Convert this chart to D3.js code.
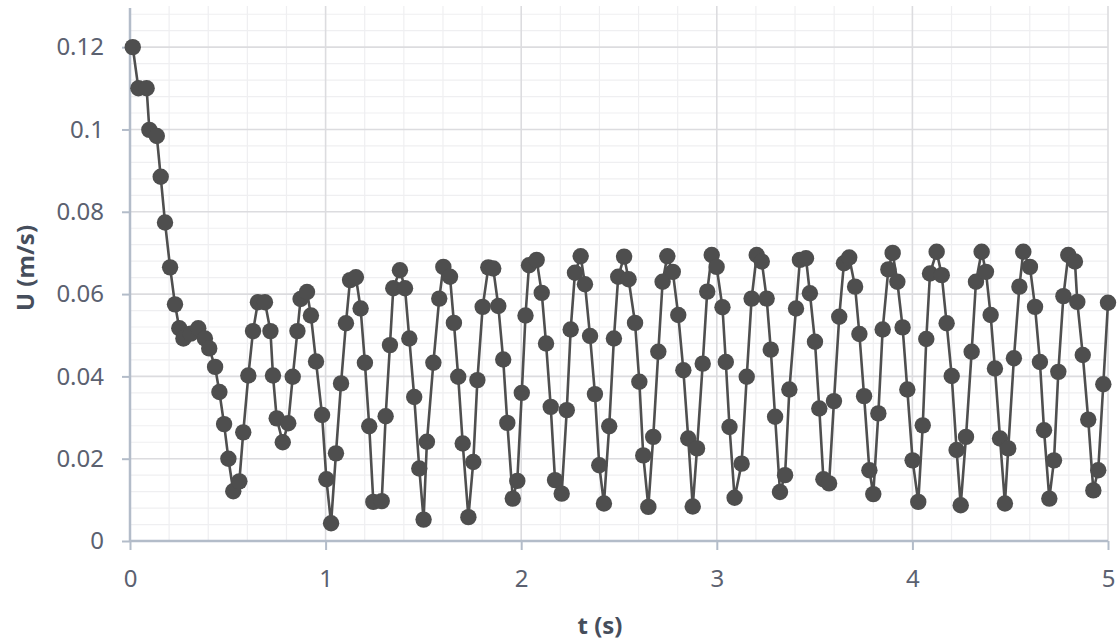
<!DOCTYPE html>
<html>
<head>
<meta charset="utf-8">
<script src="https://cdn.jsdelivr.net/npm/d3@7/dist/d3.min.js"></script>
<style>
  html, body { margin: 0; padding: 0; background: #ffffff; }
  svg { display: block; }
  .tick text { font-family: "Noto Sans", "Open Sans", sans-serif; }
</style>
</head>
<body>
<svg id="chart" width="1118" height="643"></svg>
<script>
// Velocity record U(t)
const timeS = [
  0.014, 0.043, 0.085, 0.099, 0.137, 0.157, 0.179, 0.205, 0.230, 0.252,
  0.273, 0.310, 0.349, 0.383, 0.405, 0.435, 0.457, 0.481, 0.503, 0.528,
  0.559, 0.579, 0.605, 0.629, 0.654, 0.690, 0.718, 0.731, 0.750, 0.781,
  0.809, 0.832, 0.856, 0.872, 0.905, 0.925, 0.951, 0.982, 1.004, 1.028,
  1.053, 1.079, 1.104, 1.125, 1.155, 1.179, 1.201, 1.223, 1.244, 1.287,
  1.307, 1.329, 1.346, 1.380, 1.406, 1.428, 1.453, 1.479, 1.501, 1.518,
  1.551, 1.581, 1.602, 1.636, 1.656, 1.678, 1.701, 1.730, 1.755, 1.776,
  1.803, 1.832, 1.857, 1.883, 1.908, 1.929, 1.957, 1.980, 2.003, 2.022,
  2.040, 2.079, 2.105, 2.127, 2.151, 2.173, 2.207, 2.233, 2.253, 2.275,
  2.304, 2.326, 2.352, 2.377, 2.399, 2.423, 2.450, 2.474, 2.496, 2.526,
  2.549, 2.582, 2.604, 2.624, 2.650, 2.675, 2.701, 2.723, 2.747, 2.775,
  2.803, 2.829, 2.854, 2.877, 2.899, 2.928, 2.951, 2.974, 2.999, 3.029,
  3.046, 3.065, 3.091, 3.127, 3.153, 3.178, 3.204, 3.230, 3.255, 3.276,
  3.298, 3.323, 3.349, 3.371, 3.405, 3.425, 3.456, 3.476, 3.502, 3.524,
  3.545, 3.574, 3.599, 3.626, 3.650, 3.677, 3.707, 3.729, 3.753, 3.780,
  3.800, 3.826, 3.848, 3.877, 3.899, 3.923, 3.950, 3.974, 4.001, 4.030,
  4.053, 4.071, 4.090, 4.124, 4.150, 4.175, 4.201, 4.226, 4.247, 4.274,
  4.303, 4.325, 4.354, 4.376, 4.400, 4.422, 4.448, 4.473, 4.490, 4.519,
  4.547, 4.567, 4.601, 4.627, 4.652, 4.673, 4.700, 4.724, 4.746, 4.772,
  4.797, 4.831, 4.843, 4.871, 4.899, 4.925, 4.950, 4.976, 5.000
];

const velocity = [
  0.1200, 0.1100, 0.1100, 0.0999, 0.0984, 0.0885, 0.0774, 0.0665, 0.0575, 0.0517,
  0.0492, 0.0504, 0.0517, 0.0492, 0.0468, 0.0423, 0.0362, 0.0284, 0.0200, 0.0121,
  0.0145, 0.0264, 0.0402, 0.0510, 0.0580, 0.0580, 0.0510, 0.0402, 0.0298, 0.0240,
  0.0286, 0.0399, 0.0510, 0.0588, 0.0605, 0.0548, 0.0436, 0.0306, 0.0150, 0.0043,
  0.0213, 0.0383, 0.0529, 0.0634, 0.0641, 0.0565, 0.0433, 0.0279, 0.0095, 0.0097,
  0.0303, 0.0476, 0.0614, 0.0658, 0.0614, 0.0492, 0.0350, 0.0176, 0.0052, 0.0241,
  0.0433, 0.0589, 0.0666, 0.0642, 0.0530, 0.0399, 0.0237, 0.0058, 0.0192, 0.0391,
  0.0569, 0.0665, 0.0662, 0.0571, 0.0441, 0.0287, 0.0103, 0.0146, 0.0360, 0.0548,
  0.0670, 0.0683, 0.0603, 0.0480, 0.0326, 0.0148, 0.0115, 0.0318, 0.0514, 0.0652,
  0.0692, 0.0624, 0.0498, 0.0357, 0.0184, 0.0091, 0.0279, 0.0492, 0.0642, 0.0691,
  0.0636, 0.0530, 0.0387, 0.0208, 0.0083, 0.0253, 0.0460, 0.0630, 0.0692, 0.0654,
  0.0549, 0.0415, 0.0249, 0.0084, 0.0225, 0.0431, 0.0606, 0.0695, 0.0666, 0.0568,
  0.0435, 0.0277, 0.0105, 0.0188, 0.0399, 0.0589, 0.0695, 0.0679, 0.0589, 0.0465,
  0.0302, 0.0119, 0.0160, 0.0368, 0.0565, 0.0683, 0.0687, 0.0602, 0.0484, 0.0322,
  0.0150, 0.0140, 0.0340, 0.0545, 0.0675, 0.0689, 0.0618, 0.0503, 0.0352, 0.0172,
  0.0114, 0.0310, 0.0514, 0.0660, 0.0700, 0.0630, 0.0519, 0.0368, 0.0196, 0.0095,
  0.0281, 0.0491, 0.0650, 0.0703, 0.0646, 0.0529, 0.0401, 0.0221, 0.0087, 0.0253,
  0.0460, 0.0630, 0.0703, 0.0654, 0.0549, 0.0419, 0.0249, 0.0091, 0.0225, 0.0444,
  0.0618, 0.0703, 0.0666, 0.0569, 0.0435, 0.0269, 0.0103, 0.0196, 0.0411, 0.0595,
  0.0695, 0.0679, 0.0581, 0.0452, 0.0295, 0.0123, 0.0172, 0.0381, 0.0579
];

// Axis ticks and labels
const xTicks = [0, 1, 2, 3, 4, 5];
const xTickLabels = ["0", "1", "2", "3", "4", "5"];
const yTicks = [0, 0.02, 0.04, 0.06, 0.08, 0.1, 0.12];
const yTickLabels = ["0", "0.02", "0.04", "0.06", "0.08", "0.1", "0.12"];
const xMinorTicks = [0.2, 0.4, 0.6, 0.8, 1.2, 1.4, 1.6, 1.8, 2.2, 2.4, 2.6, 2.8,
                     3.2, 3.4, 3.6, 3.8, 4.2, 4.4, 4.6, 4.8];
const yMinorTicks = [0.004, 0.008, 0.012, 0.016, 0.024, 0.028, 0.032, 0.036,
                     0.044, 0.048, 0.052, 0.056, 0.064, 0.068, 0.072, 0.076,
                     0.084, 0.088, 0.092, 0.096, 0.104, 0.108, 0.112, 0.116, 0.124, 0.128];
const xDomain = [0, 5];
const yDomain = [0, 0.13];
const xTitle = "t (s)";
const yTitle = "U (m/s)";

const points = timeS.map((t, i) => ({ t: t, u: velocity[i] }));

const svg = d3.select("#chart");
const W = 1118, H = 643;
const margin = { left: 130, right: 10, top: 6, bottom: 102 };

svg.append("rect").attr("width", W).attr("height", H).attr("fill", "#ffffff");

const x = d3.scaleLinear().domain(xDomain).range([margin.left, W - margin.right]);
const y = d3.scaleLinear().domain(yDomain).range([H - margin.bottom, margin.top]);

const grid = svg.append("g");

// minor gridlines
grid.selectAll("line.hminor").data(yMinorTicks).join("line")
  .attr("x1", x(0)).attr("x2", x(5))
  .attr("y1", d => y(d)).attr("y2", d => y(d))
  .attr("stroke", "#efeff1").attr("stroke-width", 1.2);
grid.selectAll("line.vminor").data(xMinorTicks).join("line")
  .attr("x1", d => x(d)).attr("x2", d => x(d))
  .attr("y1", y(0)).attr("y2", y(yDomain[1]))
  .attr("stroke", "#efeff1").attr("stroke-width", 1.2);

// major gridlines
grid.selectAll("line.hmajor").data(yTicks.slice(1)).join("line")
  .attr("x1", x(0)).attr("x2", x(5))
  .attr("y1", d => y(d)).attr("y2", d => y(d))
  .attr("stroke", "#dcdcdf").attr("stroke-width", 1.6);
grid.selectAll("line.vmajor").data(xTicks.slice(1)).join("line")
  .attr("x1", d => x(d)).attr("x2", d => x(d))
  .attr("y1", y(0)).attr("y2", y(yDomain[1]))
  .attr("stroke", "#dcdcdf").attr("stroke-width", 1.6);

// axes
const axisColor = "#b3bcc9";
const labelColor = "#5b6170";

const xAxis = d3.axisBottom(x)
  .tickValues(xTicks)
  .tickFormat((d, i) => xTickLabels[i])
  .tickSize(9).tickPadding(20);
const gx = svg.append("g").attr("transform", `translate(0,${y(0)})`).call(xAxis);

const yAxis = d3.axisLeft(y)
  .tickValues(yTicks)
  .tickFormat((d, i) => yTickLabels[i])
  .tickSize(8).tickPadding(18);
const gy = svg.append("g").attr("transform", `translate(${x(0)},0)`).call(yAxis);

[gx, gy].forEach(g => {
  g.select(".domain").attr("stroke", axisColor).attr("stroke-width", 2.5);
  g.selectAll(".tick line").attr("stroke", axisColor).attr("stroke-width", 2);
  g.selectAll(".tick text")
    .attr("fill", labelColor)
    .attr("font-size", 24);
});
gy.select(".domain").attr("d", `M0,${y(yDomain[1]) + 2}V${y(0)}`);
gx.select(".domain").attr("d", `M${x(0)},0H${x(5)}`);

// data line and markers
const line = d3.line().x(d => x(d.t)).y(d => y(d.u));
svg.append("path")
  .datum(points)
  .attr("d", line)
  .attr("fill", "none")
  .attr("stroke", "#4f4f4f")
  .attr("stroke-width", 2.6)
  .attr("stroke-linejoin", "round");

svg.append("g").selectAll("circle").data(points).join("circle")
  .attr("cx", d => x(d.t))
  .attr("cy", d => y(d.u))
  .attr("r", 8.2)
  .attr("fill", "#4e4e4e");

// axis titles
svg.append("text")
  .attr("x", 600).attr("y", 634)
  .attr("text-anchor", "middle")
  .attr("font-family", "'Noto Sans', 'Open Sans', sans-serif")
  .attr("font-weight", "bold")
  .attr("font-size", 24)
  .attr("fill", "#464e5c")
  .text(xTitle);

svg.append("text")
  .attr("transform", "translate(34,268) rotate(-90)")
  .attr("text-anchor", "middle")
  .attr("font-family", "'Noto Sans', 'Open Sans', sans-serif")
  .attr("font-weight", "bold")
  .attr("font-size", 24)
  .attr("fill", "#464e5c")
  .text(yTitle);
</script>
</body>
</html>
